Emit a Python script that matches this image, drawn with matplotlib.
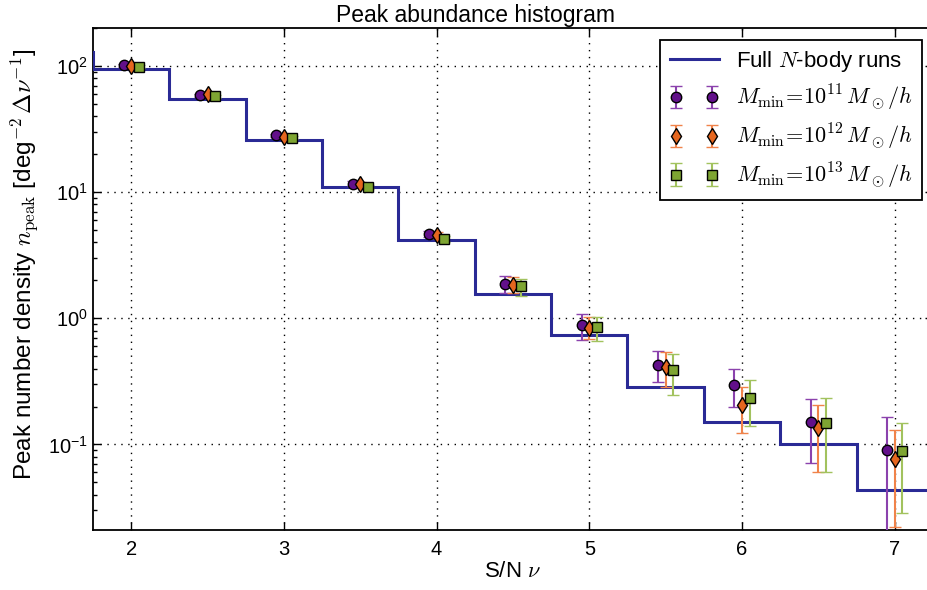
import numpy as np
import matplotlib
matplotlib.use("Agg")
import matplotlib.pyplot as plt
from matplotlib.ticker import FuncFormatter, LogLocator, FixedLocator

plt.rcParams['font.family'] = ['Liberation Sans', 'DejaVu Sans']
plt.rcParams['mathtext.fontset'] = 'cm'

# ---- data ----
hist_edges = [1.25, 1.75, 2.25, 2.75, 3.25, 3.75, 4.25, 4.75, 5.25, 5.75, 6.25, 6.75, 7.25]
hist_values = [130, 94.2, 55.1, 25.9, 10.96, 4.19, 1.557, 0.738, 0.284, 0.150, 0.101, 0.0434]

centers = [2.0, 2.5, 3.0, 3.5, 4.0, 4.5, 5.0, 5.5, 6.0, 6.5, 7.0]

m11_val = [101, 58.9, 28.2, 11.7, 4.68, 1.88, 0.879, 0.43, 0.298, 0.151, 0.0912]
m11_hi = [103, 60.5, 29.0, 12.2, 4.95, 2.15, 1.08, 0.547, 0.394, 0.231, 0.165]
m11_lo = [99, 57.3, 27.4, 11.2, 4.42, 1.60, 0.673, 0.31, 0.197, 0.071, 0.0]

m12_val = [100, 59.5, 27.6, 11.6, 4.6, 1.85, 0.843, 0.41, 0.204, 0.134, 0.0773]
m12_hi = [102, 61, 28.4, 12.0, 4.85, 2.12, 1.02, 0.541, 0.284, 0.204, 0.131]
m12_lo = [98, 58, 26.8, 11.2, 4.35, 1.58, 0.69, 0.286, 0.123, 0.0607, 0.022]

m13_val = [99, 57.5, 27.0, 11.0, 4.27, 1.79, 0.846, 0.387, 0.235, 0.147, 0.088]
m13_hi = [101, 59, 27.8, 11.4, 4.5, 2.06, 1.02, 0.525, 0.324, 0.232, 0.147]
m13_lo = [97, 56, 26.2, 10.6, 4.05, 1.51, 0.667, 0.245, 0.140, 0.060, 0.0287]

labels = [r"$M_{\rm min}\!=\!10^{11}\,M_\odot/h$",
          r"$M_{\rm min}\!=\!10^{12}\,M_\odot/h$",
          r"$M_{\rm min}\!=\!10^{13}\,M_\odot/h$"]

fig = plt.figure(figsize=(9.27, 5.90), dpi=100)
ax = fig.add_axes([0.1003, 0.1017, 0.9061, 0.8508])

ax.stairs(hist_values, hist_edges, baseline=None, color='#2a2a95', lw=2.2,
          label=r"Full $N$-body runs", zorder=3)

series = [
    (m11_val, m11_hi, m11_lo, -0.05, 'o', '#62108a', '#8b42ad', 7.5),
    (m12_val, m12_hi, m12_lo, 0.0, 'd', '#e5661f', '#f0834a', 8.5),
    (m13_val, m13_hi, m13_lo, 0.05, 's', '#7ea532', '#a2c25e', 7.0),
]
for (val, hi, lo, off, mk, fc, ec, ms), lab in zip(series, labels):
    v = np.array(val)
    yerr = [v - np.array(lo), np.array(hi) - v]
    ax.errorbar(np.array(centers) + off, v, yerr=yerr, fmt=mk, ms=ms,
                mfc=fc, mec='black', mew=1.0, ecolor=ec, elinewidth=1.5,
                capsize=4, capthick=1.5, label=lab, zorder=4)

ax.set_yscale('log')
ax.set_xlim(1.75, 7.25)
ax.set_ylim(0.021, 200)

ax.xaxis.set_major_locator(FixedLocator([2, 3, 4, 5, 6, 7]))
ax.yaxis.set_major_locator(LogLocator(base=10, numticks=10))
ax.yaxis.set_minor_locator(LogLocator(base=10, subs=np.arange(2, 10), numticks=20))
ax.yaxis.set_major_formatter(FuncFormatter(lambda y, p: r"$\mathregular{10^{%d}}$" % int(round(np.log10(y)))))

ax.tick_params(which='both', direction='in', top=True, right=True, labelsize=14.5)
ax.tick_params(which='major', length=6, width=1)
ax.tick_params(which='minor', length=3, width=1)
ax.tick_params(axis='x', pad=7)
ax.grid(True, which='major', linestyle=(0, (1, 4)), color='black', lw=1.0, zorder=0)
ax.set_axisbelow(True)
for s in ax.spines.values():
    s.set_linewidth(1.3)

ax.set_title("Peak abundance histogram", fontsize=16.5, pad=4, x=0.456)
ax.set_xlabel(r"S/N $\nu$", fontsize=16, labelpad=2)
ax.set_ylabel(r"Peak number density $n_{\rm peak}$ [deg$^{-2}\,\Delta\nu^{-1}$]", fontsize=17.5, labelpad=5, y=0.53)

leg = ax.legend(loc='upper right', bbox_to_anchor=(0.9875, 0.9765), numpoints=2,
                fontsize=16, fancybox=False, framealpha=1, edgecolor='black',
                handlelength=2.2, borderpad=0.42, labelspacing=0.4, handletextpad=0.8,
                borderaxespad=0.0)
leg.get_frame().set_linewidth(1.3)

fig.savefig("out.png", dpi=100)
